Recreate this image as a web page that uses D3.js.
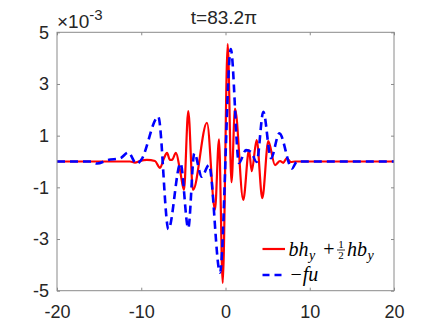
<!DOCTYPE html>
<html><head><meta charset="utf-8">
<script src="https://cdn.jsdelivr.net/npm/d3@7"></script>
<style>body{margin:0;background:#fff}svg{display:block}</style>
</head><body><svg id="c" width="436" height="327"></svg>
<script>
// data (values in units of 1e-3)
const redX = [-20, -11.34, -10.74, -10.15, -9.32, -8.37, -7.77, -7.30, -6.94, -6.59, -6.35, -5.88, -5.40, -4.93, -4.42, -3.86, -2.20, -1.25, -0.77, -0.33, 0.26, 0.71, 1.13, 2.11, 2.79, 3.11, 3.70, 4.37, 5.08, 5.88, 6.47, 6.86, 7.26, 7.77, 8.25, 20];
const redY = [0, 0, -0.04, 0.02, 0.06, 0.02, -0.25, 0.13, 0.33, 0.06, 0.06, 0.33, -0.33, -1.10, 1.95, -1.10, 1.50, -1.87, 0.86, -4.70, 4.54, -0.80, 2.05, -1.49, 0.44, -0.37, 0.83, -1.42, 0.79, -0.14, 0.02, -0.05, 0.12, -0.02, 0, 0];
const blueX = [-20, -15.85, -15.25, -13.95, -12.52, -11.54, -10.56, -10.03, -7.98, -6.77, -5.34, -4.42, -3.70, -2.82, -1.96, -0.65, 0.63, 1.60, 2.43, 3.03, 3.70, 4.49, 5.40, 6.39, 7.89, 8.49, 20];
const blueY = [0, 0, -0.08, 0.06, 0.12, 0.35, -0.09, 0.05, 1.73, -2.62, -0.07, -2.58, 0.32, -0.59, -0.13, -4.30, 4.35, -0.06, 0.44, 0.37, -0.02, 1.92, 0.13, 1.09, -0.27, 0, 0];
const xTicks = [-20, -10, 0, 10, 20];
const yTicks = [-5, -3, -1, 1, 3, 5];
const titleText = "t=83.2\u03c0";

const svg = d3.select("#c");
const L = 57, R = 394, T = 32.3, B = 290.7;
const x = d3.scaleLinear([-20, 20], [L, R]);
const y = d3.scaleLinear([-5, 5], [B, T]);
const font = "'Liberation Sans', Arial, sans-serif";
const txt = "#262626";
const axc = "#8a8a8a";

const line = d3.line().x(d => x(d[0])).y(d => y(d[1])).curve(d3.curveMonotoneX);
const red = redX.map((v, i) => [v, redY[i]]);
const blue = blueX.map((v, i) => [v, blueY[i]]);

svg.append("clipPath").attr("id", "cl").append("rect")
  .attr("x", L).attr("y", T).attr("width", R - L).attr("height", B - T);

const plot = svg.append("g").attr("clip-path", "url(#cl)");
plot.append("path").datum(red).attr("d", line).attr("fill", "none")
  .attr("stroke", "#ff0000").attr("stroke-width", 2.2).attr("stroke-linejoin", "round");
plot.append("path").datum(blue).attr("d", line).attr("fill", "none")
  .attr("stroke", "#0000ff").attr("stroke-width", 2.6).attr("stroke-dasharray", "8,5");

function styleAxis(g) {
  g.select(".domain").remove();
  g.selectAll("line").attr("stroke", axc);
  g.selectAll("text").attr("fill", txt).style("font-family", font).style("font-size", "18px");
}
const fmt = d => String(d);
svg.append("g").attr("transform", `translate(0,${B})`)
  .call(d3.axisBottom(x).tickValues(xTicks).tickFormat(fmt).tickSize(-3).tickPadding(15)).call(styleAxis);
svg.append("g").attr("transform", `translate(0,${T})`)
  .call(d3.axisTop(x).tickValues(xTicks).tickFormat("").tickSize(-3)).call(styleAxis);
svg.append("g").attr("transform", `translate(${L},0)`)
  .call(d3.axisLeft(y).tickValues(yTicks).tickFormat(fmt).tickSize(-3).tickPadding(8)).call(styleAxis);
svg.append("g").attr("transform", `translate(${R},0)`)
  .call(d3.axisRight(y).tickValues(yTicks).tickFormat("").tickSize(-3)).call(styleAxis);

svg.append("rect").attr("x", L).attr("y", T).attr("width", R - L).attr("height", B - T)
  .attr("fill", "none").attr("stroke", axc).attr("stroke-width", 1);

// title
svg.append("text").attr("x", 224).attr("y", 24).attr("text-anchor", "middle")
  .attr("fill", txt).style("font-family", font).style("font-size", "19px").text(titleText);

// exponent
const ex = svg.append("text").attr("x", 57).attr("y", 27.5).attr("fill", txt)
  .style("font-family", font).style("font-size", "19px");
ex.append("tspan").text("\u00d710");
ex.append("tspan").attr("dy", -8).style("font-size", "15px").text("-3");

// legend
const lg = svg.append("g");
lg.append("line").attr("x1", 262.5).attr("x2", 285).attr("y1", 249).attr("y2", 249)
  .attr("stroke", "#ff0000").attr("stroke-width", 2.2);
lg.append("line").attr("x1", 262.5).attr("x2", 285).attr("y1", 275).attr("y2", 275)
  .attr("stroke", "#0000ff").attr("stroke-width", 2.6).attr("stroke-dasharray", "7,5");
const serif = "'Liberation Serif', 'Times New Roman', serif";
function put(s, xx, yy, size, italic, anchor) {
  return lg.append("text").attr("x", xx).attr("y", yy).attr("fill", "#000")
    .attr("text-anchor", anchor || "start")
    .style("font-family", serif).style("font-size", size + "px")
    .style("font-style", italic ? "italic" : "normal").text(s);
}
let t = put("bh", 288.5, 255.5, 20, true);
let w = t.node().getComputedTextLength();
put("y", 288.5 + w + 0.5, 259.5, 14, true);
put("+", 329, 255.5, 20, false, "middle");
const fr = lg.append("text").attr("fill", "#000").attr("text-anchor", "middle")
  .style("font-family", serif).style("font-size", "11px");
fr.append("tspan").attr("x", 341).attr("y", 247.5).text("1");
fr.append("tspan").attr("x", 341).attr("y", 259).text("2");
lg.append("line").attr("x1", 337).attr("x2", 345).attr("y1", 250).attr("y2", 250)
  .attr("stroke", "#000").attr("stroke-width", 0.8);
t = put("hb", 347, 255.5, 20, true);
w = t.node().getComputedTextLength();
put("y", 347 + w + 0.5, 259.5, 14, true);
put("\u2212fu", 290.5, 281, 20, false).text(null)
  .call(s => { s.append("tspan").text("\u2212"); s.append("tspan").attr("dx", 1).style("font-style", "italic").text("fu"); });
</script></body></html>
